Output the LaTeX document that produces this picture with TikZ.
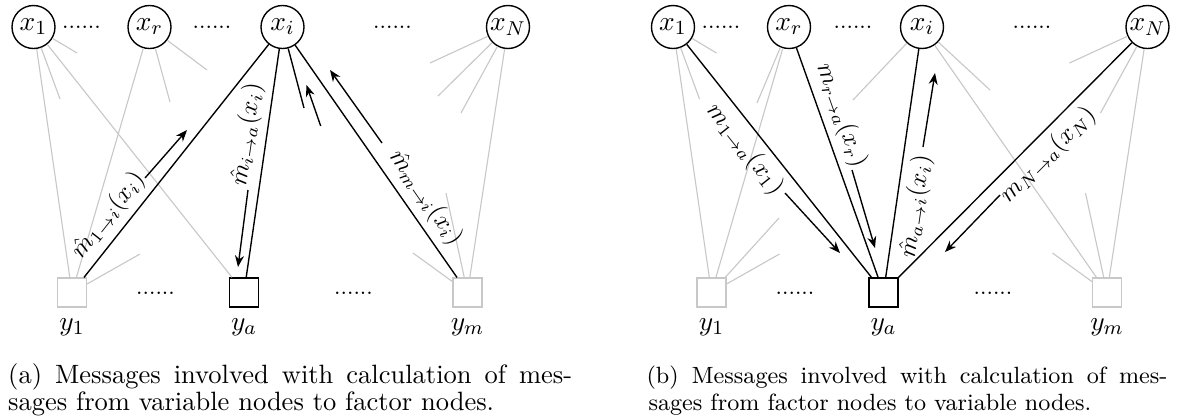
\documentclass[tikz,border=0pt]{standalone}
\usetikzlibrary{arrows.meta}
\definecolor{lightg}{RGB}{200,200,200}
\begin{document}
\begin{tikzpicture}[x=0.4pt,y=-0.4pt,
  var/.style={circle,draw=black,line width=0.55pt,minimum size=17.2pt,inner sep=0pt,font=\fontsize{11}{13}\selectfont},
  fac/.style={rectangle,draw=black,line width=0.55pt,minimum size=11.6pt,inner sep=0pt},
  facg/.style={fac,draw=lightg,line width=0.45pt},
  edgeg/.style={draw=lightg,line width=0.45pt},
  edgek/.style={draw=black,line width=0.55pt},
  msg/.style={-{Stealth[length=4.6pt,width=3.6pt]},line width=0.55pt},
  lbl/.style={font=\fontsize{10}{12}\selectfont,sloped,inner sep=2.6pt},
  dotsl/.style={font=\fontsize{9}{11}\selectfont,inner sep=0pt,anchor=base},
  ylab/.style={font=\fontsize{11}{13}\selectfont,inner sep=0pt,anchor=base},
  capa/.style={anchor=base west,inner sep=0pt,font=\fontsize{10.6}{12.7}\selectfont},
  capb/.style={anchor=base west,inner sep=0pt,font=\fontsize{9.4}{11.3}\selectfont}
]
\useasboundingbox (0,0) rectangle (1181,416);

% ---------------- panel (a) ----------------
\node[var] (a1) at (33.5,27) {$x_1$};
\node[var] (ar) at (149.5,27) {$x_r$};
\node[var] (ai) at (282.5,27) {$x_i$};
\node[var] (aN) at (508,27) {$x_N$};
\node[facg] (b1) at (72,292.5) {};
\node[fac] (ba) at (244,292.5) {};
\node[facg] (bm) at (467.5,292.5) {};

\node[dotsl] (ad1) at (81.5,28) {......};
\node[dotsl] (ad2) at (212,28) {......};
\node[dotsl] (ad3) at (392.5,28) {......};
\node[dotsl] (ad4) at (155.5,294) {......};
\node[dotsl] (ad5) at (353.5,294) {......};

\node[ylab] (ly1) at (72,330) {$y_1$};
\node[ylab] (lya) at (244,330) {$y_a$};
\node[ylab] (lym) at (467.5,330) {$y_m$};

\coordinate (sa1) at (77,53);
\coordinate (sa2) at (60,99);
\coordinate (sa3) at (207,70);
\coordinate (sa4) at (170,102);
\coordinate (sa5) at (430,63);
\coordinate (sa6) at (438,96);
\coordinate (sa7) at (461,113);
\coordinate (sa8) at (140,254);
\coordinate (sa9) at (413,253);
\coordinate (sa10) at (446,193);
\coordinate (sak) at (304,108);

\draw[edgeg] (a1) -- (sa1);
\draw[edgeg] (a1) -- (sa2);
\draw[edgeg] (ar) -- (sa3);
\draw[edgeg] (ar) -- (sa4);
\draw[edgeg] (aN) -- (sa5);
\draw[edgeg] (aN) -- (sa6);
\draw[edgeg] (aN) -- (sa7);
\draw[edgeg] (b1) -- (sa8);
\draw[edgeg] (bm) -- (sa9);
\draw[edgeg] (bm) -- (sa10);
\draw[edgeg] (a1) -- (b1);
\draw[edgeg] (a1) -- (ba);
\draw[edgeg] (ar) -- (b1);
\draw[edgeg] (aN) -- (bm);

\draw[edgek] (ai) -- node[lbl,pos=0.785,above] {$\hat{m}_{1\to i}(x_i)$} (b1);
\draw[edgek] (ai) -- node[lbl,pos=0.386,above] {$\hat{m}_{i\to a}(x_i)$} (ba);
\draw[edgek] (ai) -- node[lbl,pos=0.706,above] {$\hat{m}_{m\to i}(x_i)$} (bm);
\draw[edgek] (ai) -- (sak);

\coordinate (pa1) at (145,178);   \coordinate (qa1) at (187,130);
\coordinate (pa2) at (248,190);   \coordinate (qa2) at (238,267);
\coordinate (pa3) at (320.7,126); \coordinate (qa3) at (306.5,85);
\coordinate (pa4) at (382,143);   \coordinate (qa4) at (330,70);
\draw[msg] (pa1) -- (qa1);
\draw[msg] (pa2) -- (qa2);
\draw[msg] (pa3) -- (qa3);
\draw[msg] (pa4) -- (qa4);

\node[capa] (capa1) at (7.7,383) {\hbox to 225.6pt{(a) Messages involved with calculation of mes-}};
\node[capa] (capa2) at (7.7,410) {sages from variable nodes to factor nodes.};

% ---------------- panel (b) ----------------
\node[var] (c1) at (673,27) {$x_1$};
\node[var] (cr) at (789,27) {$x_r$};
\node[var] (ci) at (922,27) {$x_i$};
\node[var] (cN) at (1147.5,27) {$x_N$};
\node[facg] (d1) at (711.5,292.5) {};
\node[fac] (da) at (883.5,292.5) {};
\node[facg] (dm) at (1107,292.5) {};

\node[dotsl] (bd1) at (721,28) {......};
\node[dotsl] (bd2) at (853,28) {......};
\node[dotsl] (bd3) at (1032,28) {......};
\node[dotsl] (bd4) at (795,294) {......};
\node[dotsl] (bd5) at (993,294) {......};

\node[ylab] (my1) at (711.5,330) {$y_1$};
\node[ylab] (mya) at (883.5,330) {$y_a$};
\node[ylab] (mym) at (1107,330) {$y_m$};

\coordinate (sb1) at (716.5,53);
\coordinate (sb2) at (699.5,99);
\coordinate (sb3) at (757,103);
\coordinate (sb4) at (853,100);
\coordinate (sb5) at (990,90);
\coordinate (sb6) at (1069.5,63);
\coordinate (sb7) at (1100.5,113);
\coordinate (sb8) at (779,218);
\coordinate (sb9) at (779.5,254);
\coordinate (sb10) at (1052.5,253);
\coordinate (sb11) at (1085.5,193);

\draw[edgeg] (c1) -- (sb1);
\draw[edgeg] (c1) -- (sb2);
\draw[edgeg] (cr) -- (sb3);
\draw[edgeg] (ci) -- (sb4);
\draw[edgeg] (ci) -- (sb5);
\draw[edgeg] (cN) -- (sb6);
\draw[edgeg] (cN) -- (sb7);
\draw[edgeg] (d1) -- (sb8);
\draw[edgeg] (d1) -- (sb9);
\draw[edgeg] (dm) -- (sb10);
\draw[edgeg] (dm) -- (sb11);
\draw[edgeg] (c1) -- (d1);
\draw[edgeg] (cr) -- (d1);
\draw[edgeg] (ci) -- (dm);
\draw[edgeg] (cN) -- (dm);

\draw[edgek] (c1) -- node[lbl,pos=0.398,below] {$m_{1\to a}(x_1)$} (da);
\draw[edgek] (cr) -- node[lbl,pos=0.322,above] {$m_{r\to a}(x_r)$} (da);
\draw[edgek] (ci) -- node[lbl,pos=0.677,below] {$\hat{m}_{a\to i}(x_i)$} (da);
\draw[edgek] (cN) -- node[lbl,pos=0.419,below] {$m_{N\to a}(x_N)$} (da);

\coordinate (pb1) at (785,193);  \coordinate (qb1) at (840,253);
\coordinate (pb2) at (852,170);  \coordinate (qb2) at (875,248);
\coordinate (pb3) at (923,147);  \coordinate (qb3) at (935,73);
\coordinate (pb4) at (1000,195); \coordinate (qb4) at (945,252);
\draw[msg] (pb1) -- (qb1);
\draw[msg] (pb2) -- (qb2);
\draw[msg] (pb3) -- (qb3);
\draw[msg] (pb4) -- (qb4);

\node[capb] (capb1) at (646,383) {\hbox to 208.4pt{(b) Messages involved with calculation of mes-}};
\node[capb] (capb2) at (648,410) {sages from factor nodes to variable nodes.};
\end{tikzpicture}
\end{document}
